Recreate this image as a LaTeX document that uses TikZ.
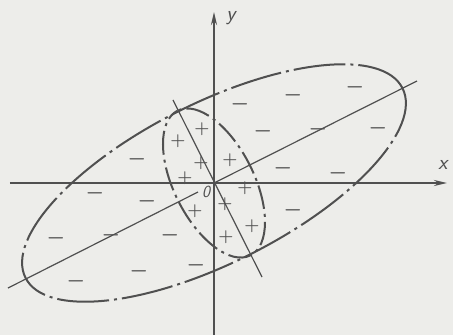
\documentclass[tikz,border=0pt]{standalone}
\definecolor{ink}{RGB}{80,80,80}
\definecolor{paper}{RGB}{237,237,234}
\usepackage{amsmath, amssymb}
\usetikzlibrary{arrows.meta, calc}
\tikzset{
  axisln/.style={draw=ink, line width=1.9pt, -{Stealth[length=13pt, width=6pt]}},
  oval/.style={draw=ink, line width=2pt,
               dash pattern=on 52pt off 5pt on 3pt off 5pt},
  ovalsm/.style={draw=ink, line width=2pt,
               dash pattern=on 24pt off 5pt on 3pt off 5pt},
  mainax/.style={draw=ink, line width=1.2pt},
  plus/.style={text=ink, inner sep=0pt, font=\fontsize{16}{16}\selectfont\boldmath},
  minus/.style={text=ink, inner sep=0pt, font=\fontsize{22}{22}\selectfont\boldmath},
  lbl/.style={text=ink, inner sep=0pt, font=\fontsize{21}{21}\selectfont\sffamily\slshape},
}

\begin{document}
\begin{tikzpicture}[x=1pt, y=1pt]
    % paper and frame
    \fill[paper] (-214,-152) rectangle (239,183);
    \useasboundingbox (-214,-152) rectangle (239,183);

    % axes
    \coordinate (O)  at (0,0);
    \coordinate (xl) at (-204,0);
    \coordinate (xr) at (233,0);
    \coordinate (yb) at (0,-152);
    \coordinate (yt) at (0,171);
    \draw[axisln] (xl) -- (xr);
    \draw[axisln] (yb) -- (yt);
    \node[lbl] (xlab) at (229,18)  {x};
    \node[lbl] (ylab) at (17,165)  {y};
    \node[lbl, font=\fontsize{17}{17}\selectfont\sffamily\slshape] (olab) at (-8,-9) {0};

    % ellipses
    \draw[oval] (O) ellipse [x radius=211, y radius=80, rotate=26.7];
    \draw[ovalsm, dash phase=12pt] (O) ellipse [x radius=81, y radius=40, rotate=116.7];

    % principal axes
    \coordinate (a1) at (-206,-105);
    \coordinate (a2) at (-16,-9);
    \coordinate (a3) at (203,102);
    \coordinate (b1) at (-41,83);
    \coordinate (b2) at (48,-94);
    \draw[mainax] (a1) -- (a2);
    \draw[mainax] (O)  -- (a3);
    \draw[mainax] (b1) -- (b2);

    % signs
    \foreach \pos [count=\i] in {(-12,54), (-36,42), (16,23), (-13,20), (-29,5),
                                 (31,-5), (11,-21), (-19,-28), (38,-43), (12,-54)}
      \node[plus] (p\i) at \pos {$+$};
    \foreach \pos [count=\i] in {(26,79), (79,88), (141,96), (49,52), (104,54),
                                 (164,55), (-77,24), (69,15), (124,10), (-119,-10),
                                 (-67,-18), (79,-27), (-158,-55), (-103,-52),
                                 (-44,-52), (-138,-98), (-75,-88), (-18,-82)}
      \node[minus] (m\i) at \pos {$-$};
  \end{tikzpicture}
\end{document}
